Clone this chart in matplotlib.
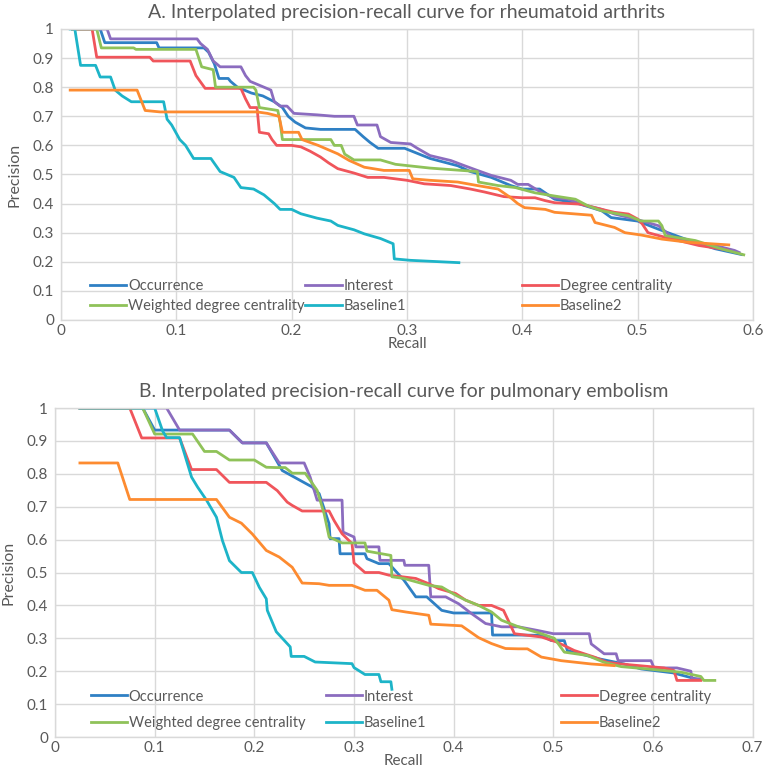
import matplotlib
matplotlib.use("Agg")
import matplotlib.pyplot as plt
from matplotlib.ticker import FuncFormatter

plt.rcParams['font.family'] = ['Lato', 'DejaVu Sans']

labels = ['Occurrence', 'Interest', 'Degree centrality',
          'Weighted degree centrality', 'Baseline1', 'Baseline2']
colors = ['#2f80c4', '#8b6cbf', '#f0555b', '#8fc259', '#1db4c8', '#fd8b30']

# ---- panel A: rheumatoid arthritis ----
a_occ_r = [0.010, 0.034, 0.038, 0.083, 0.085, 0.124, 0.128, 0.133, 0.137, 0.145, 0.147, 0.153,
           0.165, 0.175, 0.185, 0.192, 0.197, 0.203, 0.212, 0.225, 0.255, 0.262, 0.268, 0.275,
           0.298, 0.320, 0.344, 0.355, 0.373, 0.390, 0.400, 0.415, 0.428, 0.446, 0.469, 0.477,
           0.500, 0.518, 0.540, 0.567, 0.590]
a_occ_p = [1.0, 1.0, 0.953, 0.953, 0.935, 0.935, 0.92, 0.88, 0.83, 0.83, 0.82, 0.80,
           0.78, 0.77, 0.75, 0.73, 0.70, 0.68, 0.66, 0.655, 0.655, 0.63, 0.61, 0.59,
           0.59, 0.555, 0.53, 0.51, 0.49, 0.462, 0.45, 0.45, 0.415, 0.403, 0.375, 0.352,
           0.34, 0.312, 0.28, 0.245, 0.225]

a_int_r = [0.010, 0.040, 0.043, 0.118, 0.121, 0.127, 0.132, 0.138, 0.156, 0.160, 0.164, 0.176,
           0.182, 0.185, 0.190, 0.196, 0.202, 0.222, 0.237, 0.254, 0.257, 0.274, 0.277, 0.286,
           0.303, 0.309, 0.320, 0.338, 0.350, 0.361, 0.373, 0.390, 0.396, 0.405, 0.417, 0.428,
           0.440, 0.451, 0.469, 0.480, 0.498, 0.518, 0.530, 0.547, 0.567, 0.584, 0.588]
a_int_p = [1.0, 1.0, 0.966, 0.966, 0.95, 0.93, 0.89, 0.87, 0.87, 0.84, 0.82, 0.80,
           0.79, 0.75, 0.735, 0.735, 0.71, 0.705, 0.70, 0.70, 0.67, 0.67, 0.63, 0.61,
           0.605, 0.59, 0.565, 0.548, 0.53, 0.514, 0.497, 0.48, 0.466, 0.466, 0.437, 0.42,
           0.415, 0.398, 0.38, 0.364, 0.347, 0.324, 0.284, 0.267, 0.256, 0.239, 0.232]

a_deg_r = [0.010, 0.027, 0.031, 0.077, 0.080, 0.112, 0.117, 0.125, 0.156, 0.160, 0.164, 0.170,
           0.172, 0.180, 0.183, 0.187, 0.200, 0.208, 0.216, 0.225, 0.232, 0.240, 0.254, 0.266,
           0.280, 0.300, 0.315, 0.338, 0.355, 0.367, 0.384, 0.400, 0.411, 0.420, 0.428, 0.451,
           0.469, 0.480, 0.492, 0.500, 0.504, 0.509, 0.524, 0.553, 0.573, 0.578]
a_deg_p = [1.0, 1.0, 0.903, 0.903, 0.89, 0.89, 0.84, 0.796, 0.796, 0.76, 0.73, 0.73,
           0.645, 0.64, 0.62, 0.60, 0.60, 0.595, 0.58, 0.56, 0.54, 0.52, 0.505, 0.49,
           0.49, 0.48, 0.468, 0.462, 0.45, 0.44, 0.424, 0.42, 0.42, 0.41, 0.403, 0.398,
           0.38, 0.37, 0.364, 0.347, 0.33, 0.30, 0.284, 0.256, 0.244, 0.24]

a_wdc_r = [0.010, 0.031, 0.035, 0.063, 0.065, 0.117, 0.122, 0.132, 0.134, 0.167, 0.169, 0.172,
           0.188, 0.190, 0.192, 0.234, 0.237, 0.243, 0.246, 0.254, 0.277, 0.290, 0.320, 0.361,
           0.362, 0.379, 0.394, 0.411, 0.428, 0.446, 0.457, 0.469, 0.492, 0.503, 0.518, 0.521,
           0.524, 0.550, 0.573, 0.592]
a_wdc_p = [1.0, 1.0, 0.935, 0.935, 0.93, 0.93, 0.87, 0.86, 0.80, 0.80, 0.79, 0.73,
           0.72, 0.68, 0.62, 0.62, 0.60, 0.60, 0.57, 0.55, 0.55, 0.535, 0.522, 0.51,
           0.474, 0.462, 0.455, 0.437, 0.426, 0.415, 0.392, 0.375, 0.358, 0.34, 0.34, 0.324,
           0.29, 0.273, 0.244, 0.224]

a_bl1_r = [0.008, 0.012, 0.017, 0.030, 0.034, 0.043, 0.047, 0.053, 0.061, 0.089, 0.092, 0.096,
           0.103, 0.108, 0.115, 0.130, 0.138, 0.150, 0.156, 0.167, 0.176, 0.185, 0.190, 0.200,
           0.208, 0.222, 0.234, 0.240, 0.254, 0.263, 0.277, 0.288, 0.289, 0.303, 0.345]
a_bl1_p = [1.0, 1.0, 0.875, 0.875, 0.835, 0.835, 0.79, 0.77, 0.75, 0.75, 0.69, 0.67,
           0.62, 0.60, 0.555, 0.555, 0.51, 0.49, 0.455, 0.45, 0.43, 0.40, 0.38, 0.38,
           0.365, 0.35, 0.34, 0.325, 0.31, 0.296, 0.28, 0.262, 0.21, 0.205, 0.197]

a_bl2_r = [0.008, 0.066, 0.073, 0.086, 0.170, 0.179, 0.189, 0.192, 0.206, 0.209, 0.223, 0.240,
           0.250, 0.263, 0.280, 0.302, 0.305, 0.320, 0.344, 0.361, 0.379, 0.390, 0.396, 0.402,
           0.420, 0.428, 0.460, 0.463, 0.480, 0.489, 0.503, 0.521, 0.544, 0.579]
a_bl2_p = [0.79, 0.79, 0.72, 0.715, 0.715, 0.71, 0.70, 0.645, 0.645, 0.62, 0.60, 0.571,
           0.548, 0.525, 0.514, 0.514, 0.485, 0.48, 0.474, 0.462, 0.45, 0.42, 0.40, 0.386,
           0.38, 0.37, 0.36, 0.335, 0.318, 0.30, 0.292, 0.278, 0.267, 0.258]

# ---- panel B: pulmonary embolism ----
b_occ_r = [0.025, 0.088, 0.100, 0.125, 0.175, 0.188, 0.212, 0.228, 0.258, 0.265, 0.275, 0.276,
           0.285, 0.286, 0.311, 0.313, 0.325, 0.335, 0.350, 0.362, 0.373, 0.388, 0.400, 0.438,
           0.439, 0.465, 0.488, 0.498, 0.511, 0.514, 0.547, 0.571, 0.588, 0.620, 0.645]
b_occ_p = [1.0, 1.0, 0.933, 0.933, 0.933, 0.894, 0.894, 0.81, 0.76, 0.74, 0.648, 0.603,
           0.603, 0.557, 0.557, 0.542, 0.527, 0.527, 0.477, 0.426, 0.426, 0.385, 0.377, 0.377,
           0.31, 0.31, 0.309, 0.293, 0.293, 0.263, 0.237, 0.222, 0.207, 0.195, 0.175]

b_int_r = [0.025, 0.112, 0.125, 0.175, 0.188, 0.212, 0.225, 0.250, 0.256, 0.263, 0.288, 0.289,
           0.300, 0.302, 0.325, 0.326, 0.350, 0.351, 0.375, 0.377, 0.392, 0.405, 0.418, 0.432,
           0.448, 0.465, 0.484, 0.500, 0.536, 0.538, 0.551, 0.563, 0.565, 0.598, 0.601, 0.624,
           0.638, 0.639, 0.648]
b_int_p = [1.0, 1.0, 0.933, 0.933, 0.894, 0.894, 0.833, 0.833, 0.79, 0.72, 0.72, 0.623,
           0.608, 0.578, 0.578, 0.537, 0.537, 0.522, 0.522, 0.426, 0.426, 0.405, 0.375, 0.345,
           0.335, 0.335, 0.324, 0.314, 0.314, 0.283, 0.253, 0.253, 0.232, 0.232, 0.21, 0.21,
           0.20, 0.177, 0.177]

b_deg_r = [0.025, 0.075, 0.087, 0.125, 0.137, 0.162, 0.175, 0.212, 0.223, 0.233, 0.238, 0.248,
           0.275, 0.280, 0.288, 0.298, 0.300, 0.311, 0.325, 0.335, 0.362, 0.375, 0.385, 0.402,
           0.412, 0.425, 0.438, 0.450, 0.461, 0.488, 0.504, 0.521, 0.541, 0.554, 0.568, 0.611,
           0.621, 0.624, 0.648]
b_deg_p = [1.0, 1.0, 0.909, 0.909, 0.813, 0.813, 0.774, 0.774, 0.749, 0.714, 0.704, 0.687,
           0.687, 0.658, 0.618, 0.588, 0.529, 0.50, 0.50, 0.492, 0.482, 0.466, 0.451, 0.436,
           0.416, 0.40, 0.40, 0.385, 0.314, 0.304, 0.288, 0.263, 0.243, 0.227, 0.222, 0.21,
           0.202, 0.172, 0.172]

b_wdc_r = [0.025, 0.088, 0.100, 0.138, 0.150, 0.162, 0.175, 0.200, 0.212, 0.222, 0.231, 0.238,
           0.251, 0.263, 0.270, 0.275, 0.288, 0.311, 0.313, 0.337, 0.338, 0.350, 0.375, 0.388,
           0.402, 0.412, 0.425, 0.438, 0.448, 0.465, 0.488, 0.501, 0.511, 0.534, 0.551, 0.568,
           0.594, 0.628, 0.648, 0.651, 0.662]
b_wdc_p = [1.0, 1.0, 0.921, 0.921, 0.868, 0.868, 0.842, 0.842, 0.82, 0.819, 0.819, 0.802,
           0.802, 0.75, 0.679, 0.608, 0.59, 0.59, 0.565, 0.552, 0.487, 0.482, 0.461, 0.456,
           0.431, 0.416, 0.40, 0.38, 0.355, 0.335, 0.314, 0.30, 0.258, 0.248, 0.227, 0.214,
           0.207, 0.197, 0.184, 0.172, 0.172]

b_bl1_r = [0.025, 0.100, 0.108, 0.112, 0.125, 0.130, 0.137, 0.143, 0.152, 0.162, 0.168, 0.175,
           0.187, 0.198, 0.205, 0.212, 0.213, 0.222, 0.236, 0.237, 0.250, 0.261, 0.298, 0.300,
           0.311, 0.325, 0.327, 0.337, 0.338]
b_bl1_p = [1.0, 1.0, 0.93, 0.91, 0.91, 0.86, 0.79, 0.76, 0.72, 0.668, 0.597, 0.536,
           0.50, 0.50, 0.455, 0.42, 0.385, 0.32, 0.274, 0.245, 0.245, 0.228, 0.223, 0.211,
           0.19, 0.19, 0.168, 0.168, 0.145]

b_bl2_r = [0.025, 0.063, 0.075, 0.162, 0.175, 0.187, 0.198, 0.212, 0.225, 0.238, 0.248, 0.265,
           0.275, 0.298, 0.311, 0.323, 0.335, 0.338, 0.352, 0.375, 0.377, 0.408, 0.425, 0.438,
           0.452, 0.465, 0.474, 0.488, 0.508, 0.538, 0.561]
b_bl2_p = [0.833, 0.833, 0.722, 0.722, 0.668, 0.65, 0.617, 0.567, 0.547, 0.516, 0.468, 0.466,
           0.461, 0.461, 0.446, 0.446, 0.416, 0.387, 0.38, 0.37, 0.343, 0.338, 0.302, 0.284,
           0.269, 0.268, 0.268, 0.243, 0.232, 0.222, 0.217]

panel_a = [(a_occ_r, a_occ_p), (a_int_r, a_int_p), (a_deg_r, a_deg_p),
           (a_wdc_r, a_wdc_p), (a_bl1_r, a_bl1_p), (a_bl2_r, a_bl2_p)]
panel_b = [(b_occ_r, b_occ_p), (b_int_r, b_int_p), (b_deg_r, b_deg_p),
           (b_wdc_r, b_wdc_p), (b_bl1_r, b_bl1_p), (b_bl2_r, b_bl2_p)]

GRID = '#d9d9d9'
TXT = '#595959'

fig = plt.figure(figsize=(7.65, 7.69), dpi=100)
ax_a = fig.add_axes([0.0797, 0.5839, 0.9046, 0.3784])
ax_b = fig.add_axes([0.0719, 0.0416, 0.9120, 0.4278])


def fmt(v, pos):
    return '0' if v == 0 else ('1' if v == 1 else '%g' % round(v, 1))


def draw_panel(ax, series, xmax, title, leg_x, leg_y, spacing):
    lines = []
    for (r, p), c, lab in zip(series, colors, labels):
        ln, = ax.plot(r, p, color=c, lw=2.0, label=lab)
        lines.append(ln)
    ax.set_xlim(0, xmax)
    ax.set_ylim(0, 1)
    ax.set_xticks([i / 10 for i in range(int(round(xmax * 10)) + 1)])
    ax.set_yticks([i / 10 for i in range(11)])
    ax.xaxis.set_major_formatter(FuncFormatter(fmt))
    ax.yaxis.set_major_formatter(FuncFormatter(fmt))
    ax.grid(True, color=GRID, lw=1)
    ax.set_axisbelow(True)
    for s in ax.spines.values():
        s.set_color(GRID)
        s.set_linewidth(1)
    ax.tick_params(length=0, labelsize=11, colors=TXT)
    ax.tick_params(axis='y', pad=5)
    ax.tick_params(axis='x', pad=3)
    ax.set_title(title, fontsize=14, color=TXT, pad=8)
    ax.set_xlabel('Recall', fontsize=11, color=TXT, labelpad=-1)
    ax.set_ylabel('Precision', fontsize=11.5, color=TXT, labelpad=8)
    # legend in three evenly spaced columns
    for k in range(3):
        leg = ax.legend([lines[k], lines[k + 3]], [labels[k], labels[k + 3]],
                        loc='center left', bbox_to_anchor=(leg_x[k], leg_y),
                        frameon=False, fontsize=10.5, handlelength=2.5,
                        handletextpad=0.1, borderpad=0, borderaxespad=0,
                        labelspacing=spacing, labelcolor=TXT)
        if k < 2:
            ax.add_artist(leg)


draw_panel(ax_a, panel_a, 0.6,
           'A. Interpolated precision-recall curve for rheumatoid arthrits',
           [0.042, 0.353, 0.666], 0.083, 0.4)
draw_panel(ax_b, panel_b, 0.7,
           'B. Interpolated precision-recall curve for pulmonary embolism',
           [0.051, 0.388, 0.725], 0.083, 0.85)

fig.savefig('out.png', dpi=100)
plt.close('all')
